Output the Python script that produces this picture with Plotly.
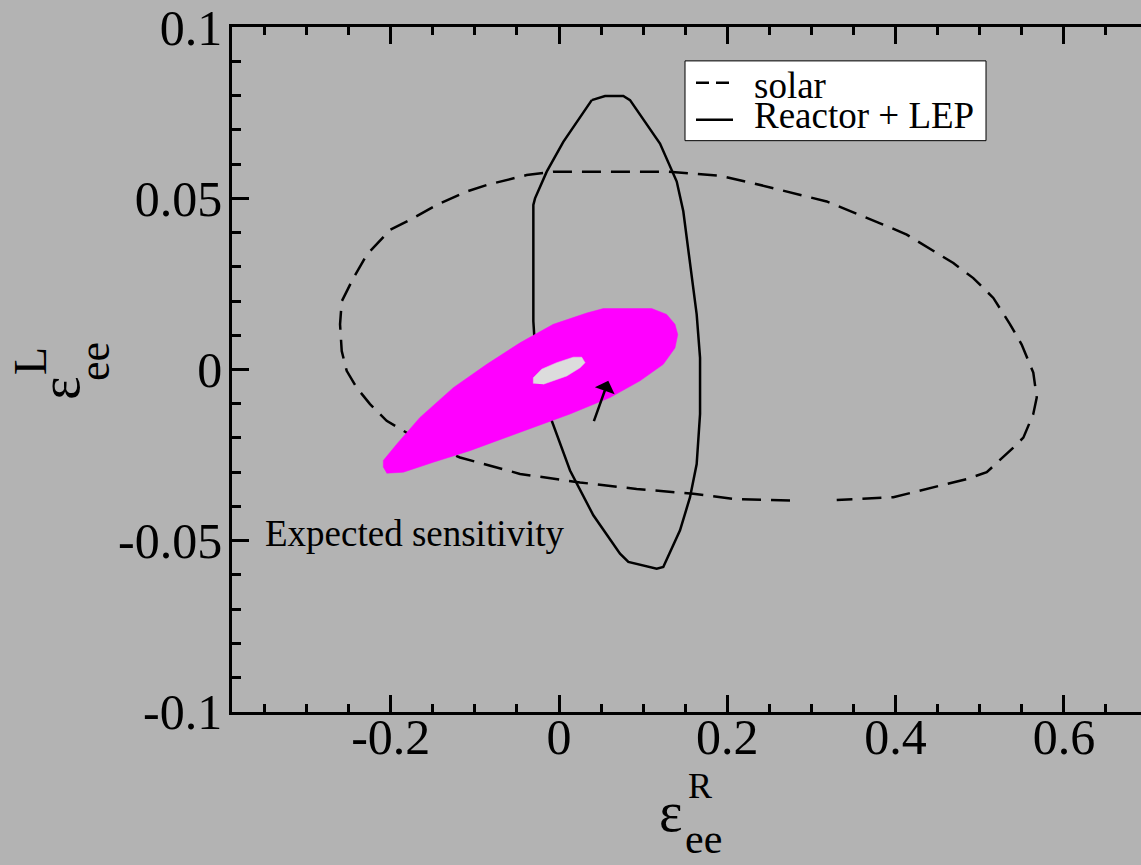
import plotly.graph_objects as go

# Solar-neutrino allowed contour (dashed); open at the bottom where the contour breaks
solar_x = [0.2745, 0.2071, 0.1596, 0.0923, 0.0250, -0.0463, -0.1176, -0.1652, -0.2048, -0.2246,
           -0.2404, -0.2523, -0.2582, -0.2602, -0.2582, -0.2444, -0.2285, -0.2008, -0.1771, -0.1453,
           -0.1097, -0.0859, -0.0384, -0.0068, 0.1280, 0.1913, 0.2309, 0.3181, 0.3933, 0.4132,
           0.4686, 0.4923, 0.5161, 0.5360, 0.5498, 0.5636, 0.5677, 0.5636, 0.5518, 0.5399,
           0.5083, 0.4845, 0.3973, 0.3300]
solar_y = [-0.0383, -0.0378, -0.0363, -0.0349, -0.0330, -0.0305, -0.0257, -0.0208, -0.0150, -0.0101,
           -0.0053, -0.0004, 0.0054, 0.0132, 0.0199, 0.0267, 0.0335, 0.0408, 0.0437, 0.0481,
           0.0520, 0.0539, 0.0568, 0.0578, 0.0578, 0.0566, 0.0544, 0.0491, 0.0415, 0.0394,
           0.0311, 0.0267, 0.0209, 0.0132, 0.0073, -0.0009, -0.0082, -0.0130, -0.0199, -0.0228,
           -0.0300, -0.0320, -0.0373, -0.0381]

# Reactor + LEP allowed contour (solid, closed)
reactor_x = [0.0389, 0.0547, 0.0764, 0.0844, 0.1200, 0.1399, 0.1477, 0.1577, 0.1636, 0.1676,
             0.1676, 0.1636, 0.1557, 0.1438, 0.1239, 0.1161, 0.0824, 0.0725, 0.0408, 0.0131,
             -0.0027, -0.0187, -0.0285, -0.0305, -0.0305, -0.0285, -0.0146, 0.0051, 0.0389]
reactor_y = [0.0787, 0.0799, 0.0799, 0.0787, 0.0660, 0.0549, 0.0462, 0.0277, 0.0161, 0.0034,
             -0.0130, -0.0276, -0.0373, -0.0470, -0.0577, -0.0582, -0.0562, -0.0538, -0.0426, -0.0295,
             -0.0189, -0.0082, 0.0063, 0.0141, 0.0481, 0.0500, 0.0578, 0.0665, 0.0787]

# Expected sensitivity region (filled)
sens_x = [-0.2088, -0.2088, -0.1929, -0.1652, -0.1256, -0.0859, -0.0463, -0.0068, 0.0329, 0.0526,
          0.1102, 0.1280, 0.1378, 0.1411, 0.1378, 0.1239, 0.0963, 0.0606, 0.0131, -0.0463,
          -0.1058, -0.1494, -0.1850, -0.2048]
sens_y = [-0.0286, -0.0266, -0.0218, -0.0140, -0.0053, 0.0015, 0.0078, 0.0132, 0.0165, 0.0178,
          0.0178, 0.0161, 0.0132, 0.0102, 0.0063, 0.0015, -0.0033, -0.0082, -0.0130, -0.0184,
          -0.0237, -0.0271, -0.0300, -0.0303]

# Inner excluded island
hole_x = [-0.0305, -0.0305, -0.0206, -0.0027, 0.0170, 0.0270, 0.0309, 0.0250, 0.0092, -0.0107, -0.0187]
hole_y = [-0.0041, -0.0024, 0.0001, 0.0020, 0.0036, 0.0036, 0.0020, 0.0005, -0.0019, -0.0036, -0.0043]

# Arrow tail/head and label anchor
arrow_tail = (0.0408, -0.0155)
arrow_head = (0.0586, -0.0033)
label_pos = (-0.1711, -0.0479)

x_ticks = [-0.2, 0, 0.2, 0.4, 0.6]
x_ticktext = ["-0.2", "0", "0.2", "0.4", "0.6"]
y_ticks = [-0.1, -0.05, 0, 0.05, 0.1]
y_ticktext = ["-0.1", "-0.05", "0", "0.05", "0.1"]

X_RANGE = [-0.3886, 0.6916]
Y_RANGE = [-0.10005, 0.10005]

SERIF = "Liberation Serif, Times New Roman, serif"
BG = "#b3b3b3"

W, H = 1141, 865
ML, MR, MT, MB = 232, 0, 25, 153
PW, PH = W - ML - MR, H - MT - MB


def px(xp):
    return (xp - ML) / PW


def py(yp):
    return (H - MB - yp) / PH


fig = go.Figure()
fig.add_trace(go.Scatter(x=solar_x, y=solar_y, mode="lines", name="solar",
                         line=dict(color="black", width=2.5, dash="19px,10px"), showlegend=False))
fig.add_trace(go.Scatter(x=reactor_x, y=reactor_y, mode="lines", name="Reactor + LEP",
                         line=dict(color="black", width=2.5), showlegend=False))
fig.add_trace(go.Scatter(x=sens_x, y=sens_y, mode="lines", fill="toself", fillcolor="#ff00ff",
                         line=dict(color="#ff00ff", width=0.5), showlegend=False))
fig.add_trace(go.Scatter(x=hole_x, y=hole_y, mode="lines", fill="toself", fillcolor="#dcdcdc",
                         line=dict(color="#dcdcdc", width=0.5), showlegend=False))

tickfont = dict(family=SERIF, size=50, color="black")
fig.update_layout(
    xaxis=dict(
        range=X_RANGE, tickmode="array", tickvals=x_ticks, ticktext=x_ticktext,
        showgrid=False, zeroline=False, showline=True, linecolor="black", linewidth=2.5,
        mirror="ticks", ticks="inside", ticklen=17, tickwidth=2.5, tickcolor="black",
        tickfont=tickfont, ticklabelstandoff=-21, ticklabeloverflow="allow",
        minor=dict(dtick=0.05, tick0=0, ticks="inside", ticklen=8, tickwidth=2.5, tickcolor="black"),
    ),
    yaxis=dict(
        range=Y_RANGE, tickmode="array", tickvals=y_ticks, ticktext=y_ticktext,
        showgrid=False, zeroline=False, showline=True, linecolor="black", linewidth=2.5,
        mirror=False, ticks="inside", ticklen=17, tickwidth=2.5, tickcolor="black",
        tickfont=tickfont, ticklabelstandoff=-3, ticklabeloverflow="allow",
        minor=dict(dtick=0.01, tick0=0, ticks="inside", ticklen=9, tickwidth=2.5, tickcolor="black"),
    ),
    # right-hand frame sits just past the visible edge: only the tick stubs show
    yaxis2=dict(
        range=Y_RANGE, overlaying="y", anchor="x", side="right",
        tickmode="array", tickvals=y_ticks, showticklabels=False,
        showgrid=False, zeroline=False, showline=False,
        ticks="inside", ticklen=10, tickwidth=2.5, tickcolor="black",
        minor=dict(dtick=0.01, tick0=0, ticks="inside", ticklen=2, tickwidth=2.5, tickcolor="black"),
    ),
)

ann = []
# arrow toward the best-fit island
ann.append(dict(x=arrow_head[0], y=arrow_head[1], ax=arrow_tail[0], ay=arrow_tail[1],
                xref="x", yref="y", axref="x", ayref="y", text="", showarrow=True,
                arrowhead=1, arrowsize=1.4, arrowwidth=2.5, arrowcolor="black"))
ann.append(dict(x=label_pos[0], y=label_pos[1], xref="x", yref="y", text="Expected sensitivity",
                showarrow=False, font=dict(family=SERIF, size=37, color="black"),
                xanchor="center", yanchor="middle"))

# x-axis title: epsilon_ee^R
ann.append(dict(x=px(671), y=py(812), xref="paper", yref="paper", text="ε", showarrow=False,
                font=dict(family=SERIF, size=56, color="black"), xanchor="center", yanchor="middle"))
ann.append(dict(x=px(703), y=py(864), xref="paper", yref="paper", text="ee", showarrow=False,
                font=dict(family=SERIF, size=42, color="black"), xanchor="center", yanchor="bottom"))
ann.append(dict(x=px(700), y=py(786), xref="paper", yref="paper", text="R", showarrow=False,
                font=dict(family=SERIF, size=36, color="black"), xanchor="center", yanchor="middle"))

# y-axis title: epsilon_ee^L (rotated)
ann.append(dict(x=px(60), y=py(387), xref="paper", yref="paper", text="ε", showarrow=False, textangle=-90,
                font=dict(family=SERIF, size=56, color="black"), xanchor="center", yanchor="middle"))
ann.append(dict(x=px(94), y=py(361), xref="paper", yref="paper", text="ee", showarrow=False, textangle=-90,
                font=dict(family=SERIF, size=44, color="black"), xanchor="center", yanchor="middle"))
ann.append(dict(x=px(30), y=py(360), xref="paper", yref="paper", text="L", showarrow=False, textangle=-90,
                font=dict(family=SERIF, size=46, color="black"), xanchor="center", yanchor="middle"))

# legend entries
ann.append(dict(x=px(752), y=py(84), xref="paper", yref="paper", text="solar", showarrow=False,
                font=dict(family=SERIF, size=37, color="black"), xanchor="left", yanchor="middle"))
ann.append(dict(x=px(752), y=py(114), xref="paper", yref="paper", text="Reactor + LEP", showarrow=False,
                font=dict(family=SERIF, size=37, color="black"), xanchor="left", yanchor="middle"))

shapes = [
    dict(type="rect", xref="paper", yref="paper", x0=px(685), x1=px(986), y0=py(59), y1=py(139),
         fillcolor="white", line=dict(color="black", width=1), layer="above"),
    dict(type="line", xref="paper", yref="paper", x0=px(696), x1=px(733), y0=py(81), y1=py(81),
         line=dict(color="black", width=2.5, dash="13px,7px"), layer="above"),
    dict(type="line", xref="paper", yref="paper", x0=px(696), x1=px(733), y0=py(118), y1=py(118),
         line=dict(color="black", width=2.5), layer="above"),
]

fig.update_layout(
    width=W, height=H,
    margin=dict(l=ML, r=MR, t=MT, b=MB, pad=0),
    paper_bgcolor=BG, plot_bgcolor=BG,
    showlegend=False,
    annotations=ann, shapes=shapes,
)

fig.write_html("out.html")
